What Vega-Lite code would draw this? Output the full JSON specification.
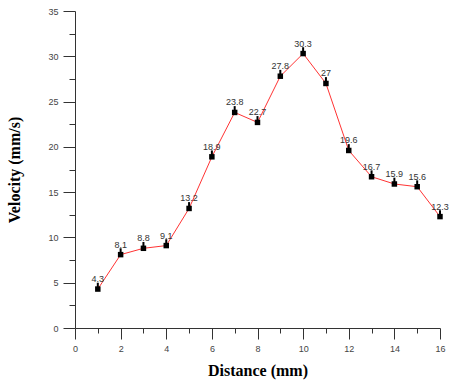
{
  "$schema": "https://vega.github.io/schema/vega-lite/v6.json",
  "width": 365,
  "height": 317,
  "autosize": {"type": "none"},
  "padding": {"left": 75, "top": 11, "right": 9, "bottom": 56},
  "background": "white",
  "config": {
    "view": {"stroke": null},
    "axis": {"grid": false, "domainColor": "#333", "tickColor": "#333", "labelColor": "#444", "labelFont": "Liberation Sans", "labelFontSize": 9, "titleFont": "Liberation Serif", "titleFontWeight": "bold", "titleFontSize": 16, "titleColor": "#000"}
  },
  "data": {
    "values": [
      {"d": 1, "v": 4.3, "err": 0.7},
      {"d": 2, "v": 8.1, "err": 0.7},
      {"d": 3, "v": 8.8, "err": 0.7},
      {"d": 4, "v": 9.1, "err": 0.7},
      {"d": 5, "v": 13.2, "err": 0.7},
      {"d": 6, "v": 18.9, "err": 0.7},
      {"d": 7, "v": 23.8, "err": 0.7},
      {"d": 8, "v": 22.7, "err": 0.7},
      {"d": 9, "v": 27.8, "err": 0.7},
      {"d": 10, "v": 30.3, "err": 0.7},
      {"d": 11, "v": 27, "err": 0.7},
      {"d": 12, "v": 19.6, "err": 0.7},
      {"d": 13, "v": 16.7, "err": 0.7},
      {"d": 14, "v": 15.9, "err": 0.7},
      {"d": 15, "v": 15.6, "err": 0.7},
      {"d": 16, "v": 12.3, "err": 0.7}
    ]
  },
  "encoding": {
    "x": {
      "field": "d", "type": "quantitative",
      "scale": {"domain": [0, 16], "nice": false, "zero": false},
      "axis": {
        "title": "Distance (mm)",
        "values": [0,1,2,3,4,5,6,7,8,9,10,11,12,13,14,15,16],
        "labelExpr": "datum.value % 2 === 0 ? datum.label : ''",
        "tickSize": {"condition": {"test": "datum.value % 2 === 0", "value": 11}, "value": 5},
        "labelPadding": 5,
        "titlePadding": 9,
        "labelFlush": false
      }
    },
    "y": {
      "field": "v", "type": "quantitative",
      "scale": {"domain": [0, 35], "nice": false},
      "axis": {
        "title": "Velocity (mm/s)",
        "values": [0,2.5,5,7.5,10,12.5,15,17.5,20,22.5,25,27.5,30,32.5,35],
        "labelExpr": "datum.value % 5 === 0 ? datum.label : ''",
        "tickSize": {"condition": {"test": "datum.value % 5 === 0", "value": 12}, "value": 6},
        "labelPadding": 5,
        "titlePadding": 25,
        "labelFlush": false
      }
    }
  },
  "layer": [
    {"mark": {"type": "line", "color": "#ff3333", "strokeWidth": 1}},
    {"mark": {"type": "rule", "color": "#000", "strokeWidth": 2}, "encoding": {"y2": {"field": "hi"}}, "transform": [{"calculate": "datum.v + datum.err", "as": "hi"}]},
    {"mark": {"type": "point", "shape": "square", "filled": true, "color": "#000", "size": 30, "opacity": 1}},
    {"mark": {"type": "text", "dy": -10, "fontSize": 9, "font": "Liberation Sans", "color": "#333"}, "encoding": {"text": {"field": "v", "type": "quantitative"}}}
  ]
}
